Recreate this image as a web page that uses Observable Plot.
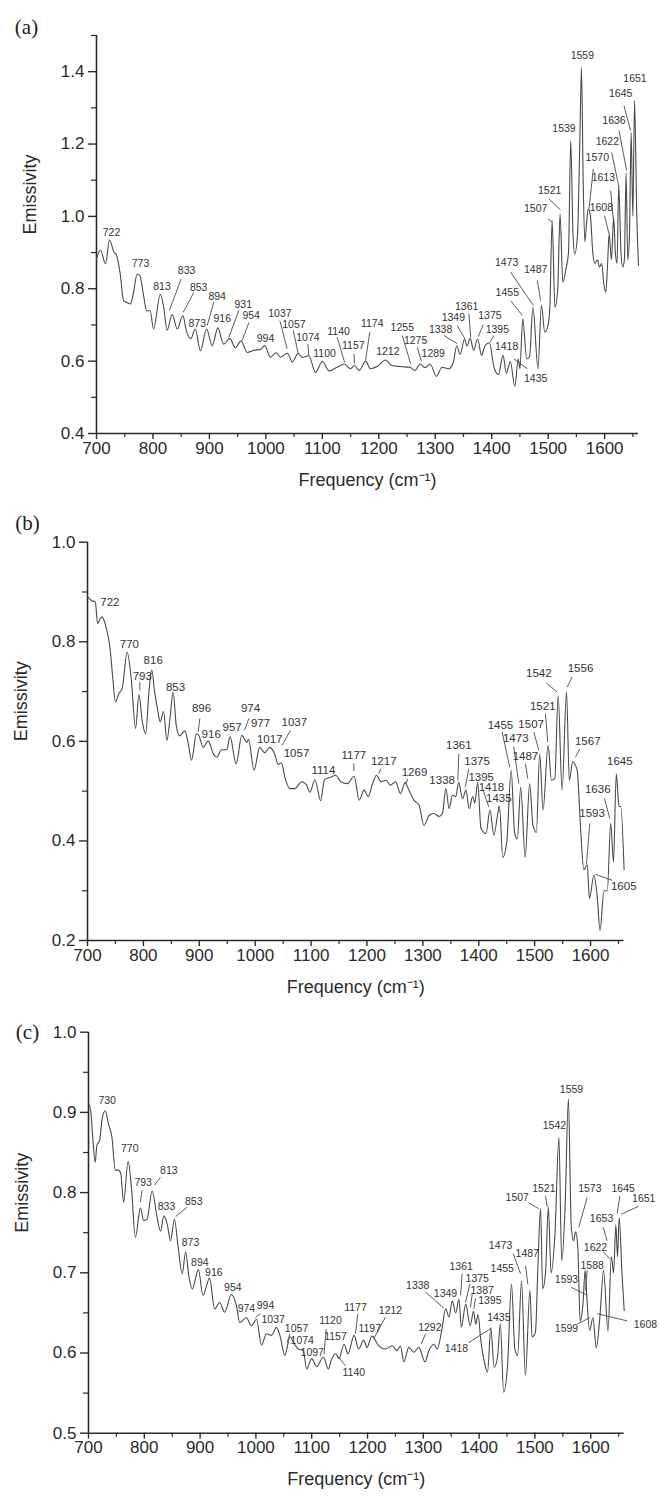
<!DOCTYPE html>
<html><head><meta charset="utf-8">
<script src="https://cdn.jsdelivr.net/npm/d3@7"></script>
<script src="https://cdn.jsdelivr.net/npm/@observablehq/plot@0.6"></script>
<style>
body{margin:0;background:#fff;}
#chart{width:660px;}
#chart svg{display:block;}
</style></head><body><div id="chart"></div>
<script>
// ---------- Panel (a) spectrum ----------
const freqA = [700,707,716,723,731,735,742,748,754,760,765,772,777,783,789,795,801,813,819,825,834,843,853,859,867,875,884,895,905,915,925,936,946,956,967,979,991,998,1008,1018,1026,1038,1047,1057,1065,1076,1088,1100,1112,1126,1139,1150,1157,1165,1177,1185,1197,1212,1223,1238,1255,1264,1273,1282,1291,1302,1312,1324,1332,1338,1344,1352,1356,1362,1368,1375,1382,1388,1396,1404,1412,1420,1426,1433,1441,1447,1450,1455,1462,1467,1473,1482,1488,1494,1500,1503,1507,1512,1517,1521,1526,1532,1536,1540,1544,1547,1552,1556,1559,1562,1565,1568,1571,1575,1579,1583,1587,1591,1595,1598,1602,1605,1608,1612,1616,1619,1622,1625,1629,1632,1635,1638,1641,1644,1647,1650,1653,1657,1660];
const emisA = [0.883,0.907,0.869,0.935,0.901,0.895,0.841,0.767,0.762,0.758,0.785,0.841,0.836,0.785,0.738,0.740,0.689,0.784,0.749,0.685,0.729,0.689,0.726,0.685,0.662,0.689,0.629,0.689,0.643,0.692,0.647,0.663,0.637,0.656,0.624,0.630,0.633,0.643,0.611,0.623,0.611,0.622,0.598,0.621,0.610,0.615,0.569,0.599,0.573,0.583,0.592,0.579,0.588,0.574,0.600,0.579,0.585,0.603,0.588,0.585,0.583,0.574,0.592,0.582,0.592,0.558,0.583,0.579,0.597,0.642,0.619,0.661,0.642,0.663,0.630,0.661,0.616,0.642,0.651,0.583,0.563,0.616,0.567,0.599,0.530,0.606,0.579,0.717,0.606,0.612,0.749,0.579,0.754,0.680,0.701,0.75,0.988,0.749,0.80,1.007,0.818,0.859,0.90,1.209,0.95,0.896,0.95,1.2,1.412,1.1,0.93,0.98,1.02,1.0,0.90,0.87,0.88,0.86,0.87,0.82,0.79,0.86,0.952,0.88,0.997,0.90,0.87,1.085,0.90,0.86,0.88,1.12,0.88,0.95,1.232,1.0,1.32,1.0,0.864];

// ---------- Panel (b) spectrum ----------
const freqB = [700,707,714,718,722,726,733,740,745,750,756,762,771,778,786,792,798,804,810,815,820,826,830,836,842,848,853,859,865,874,880,886,895,899,907,916,925,931,940,949,955,966,976,985,988,998,1008,1017,1026,1035,1041,1047,1053,1062,1071,1083,1092,1098,1107,1117,1124,1135,1144,1153,1165,1177,1186,1195,1202,1210,1217,1225,1234,1242,1251,1260,1268,1275,1284,1293,1302,1311,1320,1329,1335,1341,1347,1353,1359,1364,1371,1377,1383,1389,1393,1398,1404,1413,1420,1427,1437,1443,1450,1458,1464,1469,1475,1483,1491,1497,1503,1509,1515,1524,1530,1536,1542,1549,1557,1562,1568,1576,1582,1588,1594,1598,1606,1612,1617,1624,1630,1636,1641,1646,1651,1654,1660];
const emisB = [0.890,0.883,0.880,0.837,0.845,0.850,0.830,0.790,0.730,0.679,0.696,0.706,0.779,0.729,0.626,0.694,0.640,0.615,0.700,0.743,0.700,0.660,0.639,0.660,0.602,0.650,0.699,0.630,0.611,0.621,0.597,0.562,0.615,0.612,0.588,0.601,0.575,0.568,0.583,0.583,0.609,0.555,0.612,0.598,0.604,0.542,0.588,0.577,0.588,0.574,0.554,0.557,0.528,0.505,0.505,0.519,0.512,0.498,0.523,0.481,0.523,0.528,0.532,0.519,0.515,0.530,0.482,0.502,0.489,0.515,0.532,0.519,0.522,0.512,0.519,0.495,0.517,0.502,0.482,0.472,0.431,0.451,0.455,0.449,0.455,0.505,0.465,0.492,0.489,0.518,0.485,0.502,0.465,0.489,0.476,0.517,0.425,0.415,0.462,0.412,0.469,0.367,0.397,0.542,0.417,0.404,0.508,0.367,0.515,0.431,0.417,0.575,0.462,0.592,0.522,0.525,0.692,0.502,0.699,0.522,0.559,0.542,0.428,0.342,0.352,0.284,0.331,0.287,0.220,0.300,0.300,0.435,0.358,0.535,0.469,0.469,0.342];

// ---------- Panel (c) spectrum ----------
const freqC = [700,704,708,712,715,720,724,730,736,742,748,754,758,763,771,777,784,793,799,805,814,822,829,835,841,847,854,860,868,874,880,886,897,905,917,926,935,944,956,965,971,983,992,1001,1010,1019,1028,1037,1043,1052,1061,1070,1076,1085,1091,1100,1109,1121,1130,1134,1143,1149,1158,1165,1176,1184,1193,1199,1208,1220,1232,1244,1253,1259,1265,1274,1283,1292,1303,1310,1319,1325,1333,1340,1346,1352,1358,1364,1368,1376,1384,1390,1394,1398,1403,1409,1415,1421,1427,1433,1438,1444,1451,1458,1464,1469,1476,1483,1491,1495,1501,1505,1510,1514,1519,1524,1529,1536,1543,1548,1554,1560,1565,1569,1573,1577,1581,1586,1590,1593,1598,1604,1610,1616,1623,1631,1637,1641,1645,1648,1651,1656,1660];
const emisC = [0.911,0.902,0.865,0.838,0.859,0.865,0.890,0.902,0.885,0.869,0.828,0.828,0.823,0.788,0.839,0.806,0.744,0.781,0.765,0.767,0.802,0.773,0.752,0.771,0.761,0.740,0.767,0.736,0.699,0.726,0.695,0.680,0.704,0.672,0.693,0.655,0.663,0.651,0.673,0.659,0.638,0.644,0.634,0.642,0.610,0.624,0.622,0.632,0.622,0.597,0.620,0.610,0.605,0.603,0.580,0.593,0.583,0.595,0.580,0.589,0.599,0.593,0.611,0.599,0.622,0.605,0.616,0.607,0.621,0.609,0.605,0.609,0.603,0.609,0.589,0.607,0.601,0.607,0.589,0.603,0.611,0.605,0.628,0.655,0.645,0.665,0.650,0.667,0.632,0.661,0.634,0.652,0.636,0.648,0.616,0.590,0.576,0.631,0.582,0.595,0.636,0.551,0.585,0.686,0.605,0.597,0.690,0.572,0.678,0.620,0.626,0.700,0.780,0.680,0.700,0.782,0.700,0.750,0.869,0.715,0.780,0.917,0.760,0.740,0.751,0.730,0.640,0.660,0.703,0.670,0.628,0.644,0.606,0.641,0.703,0.627,0.720,0.700,0.760,0.720,0.769,0.700,0.653];

// ---------- Peak annotations: label text and anchor (frequency, emissivity) ----------
const labelsA = [
["722",726.6,0.956],["773",778,0.869],["813",816,0.806],["833",859.5,0.85],["853",881,0.804],["873",878.4,0.705],
["894",913.8,0.778],["916",922.7,0.717],["931",960,0.756],["954",974,0.726],["994",999.4,0.663],["1037",1024.8,0.731],
["1057",1049.6,0.701],["1074",1074.4,0.666],["1100",1104,0.621],["1140",1128.8,0.682],["1157",1154.8,0.643],
["1174",1188.4,0.703],["1212",1216,0.625],["1255",1241.6,0.692],["1275",1265.2,0.657],["1289",1296.5,0.622],
["1338",1309.5,0.686],["1349",1332,0.72],["1361",1355.6,0.751],["1375",1396.8,0.726],["1395",1410,0.686],
["1418",1426.4,0.64],["1435",1477.8,0.551],["1455",1427.6,0.788],["1473",1426.4,0.872],["1487",1477.8,0.852],
["1507",1477.8,1.021],["1521",1502.6,1.071],["1539",1528,1.242],["1559",1560.5,1.444],["1570",1587,1.163],
["1613",1597.7,1.106],["1608",1594.2,1.023],["1622",1604.8,1.207],["1636",1616.6,1.265],["1645",1628.4,1.338],
["1651",1653.8,1.381]];
const leadersA = [
[850,0.827,828.9,0.74],[872.4,0.79,853.6,0.735],[907.8,0.763,896,0.698],[952,0.74,934.4,0.666],[970,0.707,958,0.657],
[1024.8,0.712,1037.7,0.634],[1048.5,0.685,1057.3,0.62],[1074.4,0.648,1076,0.615],[1126.3,0.666,1139.4,0.597],
[1156,0.62,1157,0.593],[1184,0.68,1176.6,0.602],[1241.6,0.671,1256.3,0.593],[1268.2,0.638,1275.3,0.6],
[1315.3,0.671,1339,0.648],[1339,0.698,1352.6,0.662],[1359.6,0.732,1362.7,0.666],[1385,0.701,1376.3,0.668],
[1404,0.671,1397,0.652],[1463,0.579,1439.4,0.606],[1433.5,0.767,1454.3,0.726],[1433.5,0.846,1473.7,0.754],
[1480.8,0.823,1486.7,0.767],[1499.7,0.993,1507.4,0.984],[1501.4,1.048,1522,1.018],[1580,1.131,1572.3,1.021],
[1610.7,1.071,1616.6,0.97],[1600,1.002,1607.7,0.952],[1612.5,1.177,1625.5,1.08],[1625.5,1.237,1639,1.127],
[1634.3,1.306,1646,1.237]];

const labelsB = [
["722",740,0.88],["770",775,0.795],["816",817.5,0.763],["793",798,0.731],["853",857.4,0.709],["896",904,0.666],
["916",921.3,0.615],["957",958.8,0.629],["974",991.6,0.666],["977",1009.5,0.636],["1017",1026,0.605],
["1037",1070,0.639],["1057",1073.9,0.575],["1114",1122,0.542],["1177",1176.5,0.572],["1217",1230,0.56],
["1269",1285,0.538],["1338",1334.5,0.522],["1361",1364.3,0.592],["1375",1397,0.56],["1395",1404.3,0.528],
["1418",1422.7,0.507],["1435",1435.8,0.485],["1455",1438.8,0.632],["1473",1466.2,0.607],["1487",1483.5,0.57],
["1507",1493.7,0.634],["1521",1514.5,0.67],["1542",1507.4,0.736],["1556",1582,0.746],["1567",1595,0.601],
["1645",1652.3,0.56],["1636",1612.9,0.503],["1593",1602.8,0.455],["1605",1659.4,0.309]];
const leadersB = [
[793.6,0.719,793.6,0.702],[901,0.646,898,0.619],[988.6,0.646,980.9,0.622],[1063.1,0.622,1048.3,0.592],
[1176.5,0.556,1176.5,0.54],[1225,0.545,1221,0.535],[1273,0.525,1270,0.515],
[1364.3,0.575,1362.5,0.522],[1382,0.545,1376,0.508],[1408,0.501,1418,0.468],[1436,0.47,1436,0.458],
[1441.8,0.619,1455.4,0.548],[1462.6,0.589,1471.6,0.515],[1483.5,0.555,1487.7,0.525],[1498.4,0.619,1507.4,0.582],
[1519.3,0.656,1523.4,0.599],[1521,0.717,1540.3,0.699],[1567,0.729,1558,0.709],[1580.7,0.585,1573,0.568],
[1624.9,0.485,1634.4,0.445],[1598.6,0.435,1592.7,0.354],[1638.6,0.321,1608.8,0.333]];

const labelsC = [
["730",733.5,0.915],["770",774,0.855],["793",798,0.813],["813",844,0.828],["833",839.8,0.782],["853",888.7,0.789],
["873",882.8,0.738],["894",899.5,0.713],["916",924.6,0.7],["954",958.6,0.682],["974",983,0.655],["994",1017.2,0.659],
["1037",1031,0.642],["1057",1072.8,0.631],["1074",1083,0.616],["1097",1101,0.601],["1120",1133.7,0.64],
["1157",1142.6,0.62],["1140",1175.4,0.576],["1177",1178.5,0.657],["1197",1204,0.631],["1212",1241.2,0.653],
["1292",1311.7,0.632],["1338",1290,0.684],["1349",1339.8,0.674],["1361",1367.8,0.708],["1375",1396.6,0.693],
["1387",1405.5,0.678],["1395",1419.2,0.665],["1435",1435.3,0.644],["1418",1359.5,0.605],["1455",1441.4,0.705],
["1473",1438.4,0.734],["1487",1486.2,0.724],["1507",1468.3,0.794],["1521",1516,0.805],["1542",1535,0.884],
["1559",1565.6,0.928],["1573",1598.4,0.805],["1645",1658.2,0.805],["1651",1695,0.792],["1653",1619.4,0.767],
["1622",1608.6,0.732],["1588",1602.6,0.709],["1593",1556.6,0.691],["1599",1556.6,0.631],["1608",1698,0.635]];
const leadersC = [
[796,0.803,793,0.788],[829,0.819,818,0.809],[876.9,0.782,856,0.77],[1008,0.649,999,0.644],[1060.8,0.624,1056,0.613],
[1126,0.63,1122,0.598],[1160.6,0.584,1145.7,0.597],[1182.6,0.649,1178.5,0.624],[1232.3,0.645,1211.3,0.618],
[1304,0.624,1296,0.611],[1304,0.676,1336.7,0.656],[1369.6,0.699,1366.7,0.672],[1383.3,0.686,1375.6,0.663],
[1387.6,0.674,1384.6,0.657],[1393.5,0.668,1390.5,0.655],[1381.5,0.613,1421.7,0.631],[1461,0.724,1474.2,0.699],
[1483.2,0.709,1487.3,0.686],[1489.1,0.787,1507,0.78],[1519,0.796,1522,0.782],[1593.7,0.794,1578.7,0.757],
[1652.2,0.796,1647.4,0.774],[1686,0.783,1654.5,0.773],[1622.3,0.757,1629.4,0.74],[1622.3,0.726,1635.4,0.717],
[1593.7,0.703,1590.7,0.678],[1565,0.682,1593.7,0.672],[1575.8,0.636,1598.4,0.644],[1611.6,0.649,1665.3,0.64]];

// ---------- Axis ticks ----------
const xMajor = [700,800,900,1000,1100,1200,1300,1400,1500,1600];
const xMinor = [750,850,950,1050,1150,1250,1350,1450,1550,1650];
const yMajorA = [0.4,0.6,0.8,1.0,1.2,1.4], yMinorA = [0.5,0.7,0.9,1.1,1.3,1.5];
const yMajorB = [0.2,0.4,0.6,0.8,1.0], yMinorB = [0.3,0.5,0.7,0.9];
const yMajorC = [0.5,0.6,0.7,0.8,0.9,1.0], yMinorC = [0.55,0.65,0.75,0.85,0.95];

const panels = [
  {tag:"(a)", freq:freqA, emis:emisA, labels:labelsA, leaders:leadersA, yDomain:[0.4,1.5], yMajor:yMajorA, yMinor:yMinorA,
   height:495, mt:35, mb:62, ml:96, mr:22, tagDx:-70, tagDy:-8, labelSize:10.5},
  {tag:"(b)", freq:freqB, emis:emisB, labels:labelsB, leaders:leadersB, yDomain:[0.2,1.0], yMajor:yMajorB, yMinor:yMinorB,
   height:510, mt:46.7, mb:65, ml:87, mr:36.4, tagDx:-60, tagDy:-19, labelSize:11.5},
  {tag:"(c)", freq:freqC, emis:emisC, labels:labelsC, leaders:leadersC, yDomain:[0.5,1.0], yMajor:yMajorC, yMinor:yMinorC,
   height:494, mt:26.7, mb:66.3, ml:88, mr:36.3, tagDx:-61, tagDy:0, labelSize:10.5}
];

const FONT = "'Liberation Sans', Arial, Helvetica, sans-serif";
const AX = "#2b2b2b";
const root = document.getElementById("chart");

for (const p of panels) {
  const series = p.freq.map((f, i) => ({f, v: p.emis[i]}));
  const labs = p.labels.map(([t, f, v]) => ({t, f, v}));
  const links = p.leaders.map(([x1, y1, x2, y2]) => ({x1, y1, x2, y2}));
  const svg = Plot.plot({
    width: 660, height: p.height,
    marginLeft: p.ml, marginRight: p.mr, marginTop: p.mt, marginBottom: p.mb,
    style: {fontFamily: FONT, color: AX, background: "white", overflow: "visible"},
    x: {domain: [700, 1660]},
    y: {domain: p.yDomain},
    marks: [
      Plot.axisX({ticks: xMajor, tickSize: 6, tickPadding: 2, fontSize: 17, tickFormat: d => String(d), label: null, strokeWidth: 1.4}),
      Plot.axisX({ticks: xMinor, tickSize: 4, tickFormat: () => "", label: null, strokeWidth: 1.2}),
      Plot.axisY({ticks: p.yMajor, tickSize: 8, tickPadding: 4, fontSize: 17, tickFormat: d => d.toFixed(1), label: null, strokeWidth: 1.4}),
      Plot.axisY({ticks: p.yMinor, tickSize: 5, tickFormat: () => "", label: null, strokeWidth: 1.2}),
      Plot.ruleY([p.yDomain[0]], {stroke: AX, strokeWidth: 1.6}),
      Plot.ruleX([700], {stroke: AX, strokeWidth: 1.6}),
      Plot.line(series, {x: "f", y: "v", stroke: "#4a4a4a", strokeWidth: 1.1, curve: "monotone-x"}),
      Plot.link(links, {x1: "x1", y1: "y1", x2: "x2", y2: "y2", stroke: "#4a4a4a", strokeWidth: 0.9}),
      Plot.text(labs, {x: "f", y: "v", text: "t", fontSize: p.labelSize, fill: "#333"}),
      Plot.text(["Frequency (cm\u207B\u00B9)"], {frameAnchor: "bottom", dy: 52, fontSize: 18, fill: AX}),
      Plot.text(["Emissivity"], {frameAnchor: "left", dx: -66, rotate: -90, fontSize: 18, fill: AX}),
      Plot.text([p.tag], {frameAnchor: "top-left", dx: p.tagDx, dy: p.tagDy, fontSize: 21, textAnchor: "middle", lineAnchor: "middle",
        fontFamily: "'Liberation Serif', 'Times New Roman', serif", fill: "#222"})
    ]
  });
  root.appendChild(svg);
}
</script>
</body></html>
